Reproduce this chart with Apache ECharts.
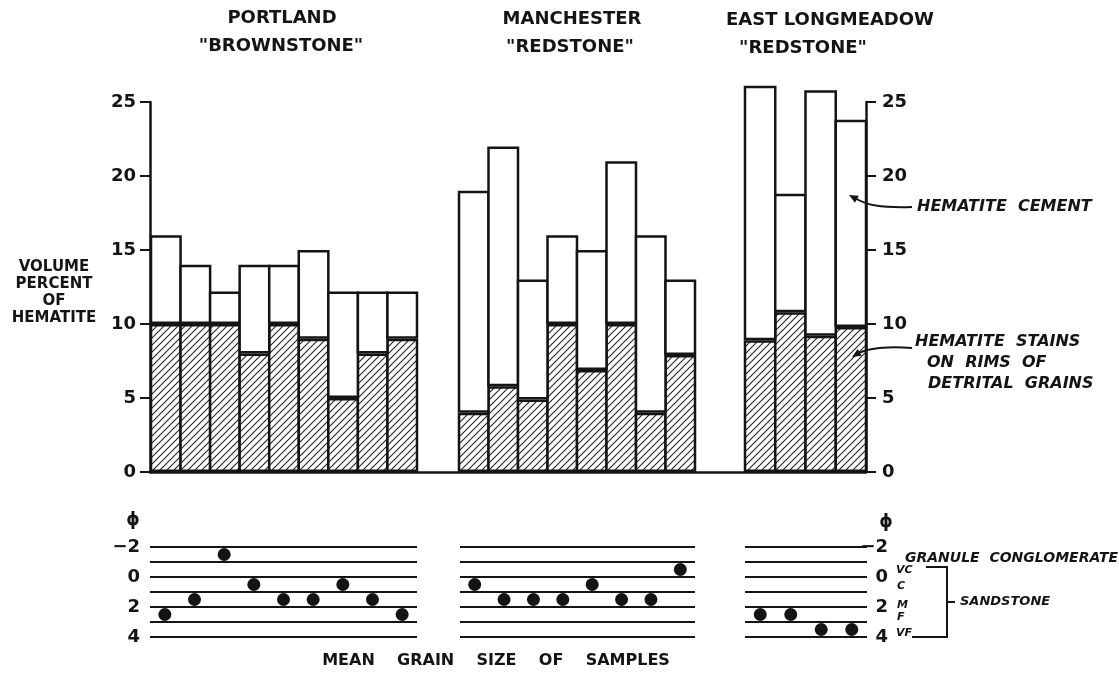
<!DOCTYPE html>
<html>
<head>
<meta charset="utf-8">
<script src="https://cdn.jsdelivr.net/npm/echarts@6/dist/echarts.min.js"></script>
<style>
  html, body { margin: 0; padding: 0; background: #fff; }
  #chart { width: 1119px; height: 673px; }
</style>
</head>
<body>
<div id="chart"></div>
<script>
// volume percent of hematite, total height and hatched (stain) part
const portlandTotal = [16, 14, 12.2, 14, 14, 15, 12.2, 12.2, 12.2]
const portlandStain = [10, 10, 10, 8, 10, 9, 5, 8, 9]
const manchesterTotal = [19, 22, 13, 16, 15, 21, 16, 13]
const manchesterStain = [4, 5.8, 4.9, 10, 6.9, 10, 4, 7.9]
const longmeadowTotal = [26.1, 18.8, 25.8, 23.8]
const longmeadowStain = [8.9, 10.8, 9.2, 9.8]

// mean grain size (phi) of the same samples
const portlandPhi = [2.5, 1.5, -1.5, 0.5, 1.5, 1.5, 0.5, 1.5, 2.5]
const manchesterPhi = [0.5, 1.5, 1.5, 1.5, 0.5, 1.5, 1.5, -0.5]
const longmeadowPhi = [2.5, 2.5, 3.5, 3.5]

const phiTickLabels = [-2, 0, 2, 4]
const ink = '#141414'
const font = '"DejaVu Sans", sans-serif'

function samples (prefix, n) {
  return Array.from({ length: n }, (_, i) => prefix + (i + 1))
}
const portlandCats = samples('P', portlandTotal.length)
const manchesterCats = samples('M', manchesterTotal.length)
const longmeadowCats = samples('E', longmeadowTotal.length)

// diagonal hatching for the stain part
function hatch () {
  const c = document.createElement('canvas')
  c.width = c.height = 7
  const g = c.getContext('2d')
  g.fillStyle = '#fff'
  g.fillRect(0, 0, 7, 7)
  g.strokeStyle = '#222'
  g.lineWidth = 1.1
  g.beginPath()
  g.moveTo(-1, 8); g.lineTo(8, -1)
  g.moveTo(-1, 1); g.lineTo(1, -1)
  g.moveTo(6, 8); g.lineTo(8, 6)
  g.stroke()
  return c
}
const hatchFill = { image: hatch(), repeat: 'repeat' }

const barTop = 102
const barH = 370
const phiTop = 547
const phiH = 90
const border = 2.5
const groups = [
  { left: 151, width: 266, cats: portlandCats, total: portlandTotal, stain: portlandStain, phi: portlandPhi, phiLeft: 150, phiWidth: 267 },
  { left: 459, width: 236, cats: manchesterCats, total: manchesterTotal, stain: manchesterStain, phi: manchesterPhi, phiLeft: 460, phiWidth: 235 },
  { left: 745, width: 121, cats: longmeadowCats, total: longmeadowTotal, stain: longmeadowStain, phi: longmeadowPhi, phiLeft: 745, phiWidth: 122 }
]

const grid = [{ left: 150, top: barTop, width: 716, height: barH, outerBoundsMode: 'none' }]
const xAxis = [{
  gridIndex: 0, type: 'value', min: 0, max: 1,
  axisLine: { show: true, lineStyle: { color: ink, width: 2.5 } },
  axisTick: { show: false }, axisLabel: { show: false }, splitLine: { show: false }
}]
const pctAxis = (pos) => ({
  gridIndex: 0, type: 'value', position: pos, min: 0, max: 25, interval: 5,
  axisLine: { show: true, lineStyle: { color: ink, width: 2.5 } },
  axisTick: { show: true, length: 10, lineStyle: { color: ink, width: 2 } },
  axisLabel: { color: ink, fontFamily: font, fontWeight: 'bold', fontSize: 18, margin: pos === 'left' ? 14 : 16 },
  splitLine: { show: false }
})
const yAxis = [pctAxis('left'), pctAxis('right')]
const series = []

groups.forEach((g, i) => {
  const bg = grid.length
  // bars touch each other: width = band width plus the border
  const bw = g.width / g.cats.length + border
  grid.push({ left: g.left, top: barTop, width: g.width, height: barH, outerBoundsMode: 'none' })
  xAxis.push({ gridIndex: bg, type: 'category', data: g.cats, show: false })
  yAxis.push({ gridIndex: bg, type: 'value', min: 0, max: 25, show: false })
  const yi = yAxis.length - 1
  const xi = xAxis.length - 1
  series.push({
    type: 'bar', xAxisIndex: xi, yAxisIndex: yi, stack: 'g' + i, clip: false,
    barWidth: bw,
    data: g.stain,
    itemStyle: { color: hatchFill, borderColor: ink, borderWidth: border }
  })
  series.push({
    type: 'bar', xAxisIndex: xi, yAxisIndex: yi, stack: 'g' + i, clip: false,
    barWidth: bw,
    data: g.total.map((t, k) => +(t - g.stain[k]).toFixed(1)),
    itemStyle: { color: '#fff', borderColor: ink, borderWidth: border }
  })

  const pg = grid.length
  grid.push({ left: g.phiLeft, top: phiTop, width: g.phiWidth, height: phiH, outerBoundsMode: 'none' })
  xAxis.push({ gridIndex: pg, type: 'category', data: g.cats, show: false })
  const showLabels = i !== 1
  yAxis.push({
    gridIndex: pg, type: 'value', inverse: true, min: -2, max: 4, interval: 1,
    position: i === 2 ? 'right' : 'left',
    axisLine: { show: false }, axisTick: { show: false },
    axisLabel: {
      show: showLabels, color: ink, fontFamily: font, fontWeight: 'bold', fontSize: 18,
      margin: i === 2 ? 21 : 10, align: 'right',
      formatter: v => phiTickLabels.includes(v) ? String(v).replace('-', '\u2212') : ''
    },
    splitLine: { show: true, lineStyle: { color: ink, width: 1.8 } }
  })
  series.push({
    type: 'scatter', xAxisIndex: xAxis.length - 1, yAxisIndex: yAxis.length - 1,
    data: g.phi, symbolSize: 13, itemStyle: { color: ink, opacity: 1 }
  })
})

function text (x, y, str, opts) {
  return {
    type: 'text', silent: true, z: 100,
    style: Object.assign({
      x, y, text: str, fill: ink, align: 'center', verticalAlign: 'middle',
      font: 'bold 18px ' + font
    }, opts || {})
  }
}
const italic = 'italic bold 16px ' + font
const small = 'italic bold 11px ' + font

function arrowHead (tip, from) {
  const dx = tip[0] - from[0]
  const dy = tip[1] - from[1]
  const L = Math.hypot(dx, dy)
  const ux = dx / L
  const uy = dy / L
  const bx = tip[0] - 9 * ux
  const by = tip[1] - 9 * uy
  return {
    type: 'polygon', silent: true, z: 100,
    shape: { points: [tip, [bx - 4 * uy, by + 4 * ux], [bx + 4 * uy, by - 4 * ux]] },
    style: { fill: ink }
  }
}

const graphic = [
  text(282, 18, 'PORTLAND'),
  text(281, 46, '"BROWNSTONE"'),
  text(572, 19, 'MANCHESTER'),
  text(570, 47, '"REDSTONE"'),
  text(830, 20, 'EAST LONGMEADOW'),
  text(803, 48, '"REDSTONE"'),
  text(54, 259, 'VOLUME\nPERCENT\nOF\nHEMATITE', { font: 'bold 15px ' + font, verticalAlign: 'top', lineHeight: 17 }),
  text(917, 207, 'HEMATITE  CEMENT', { font: italic, align: 'left' }),
  text(915, 342, 'HEMATITE  STAINS', { font: italic, align: 'left' }),
  text(927, 363, 'ON  RIMS  OF', { font: italic, align: 'left' }),
  text(928, 384, 'DETRITAL  GRAINS', { font: italic, align: 'left' }),
  {
    type: 'bezierCurve', silent: true, z: 100,
    shape: { x1: 912, y1: 207, x2: 855, y2: 198, cpx1: 880, cpy1: 208, cpx2: 866, cpy2: 205 },
    style: { stroke: ink, lineWidth: 2, fill: null }
  },
  arrowHead([849, 195], [860, 201]),
  {
    type: 'bezierCurve', silent: true, z: 100,
    shape: { x1: 912, y1: 348, x2: 857, y2: 354, cpx1: 885, cpy1: 346, cpx2: 868, cpy2: 348 },
    style: { stroke: ink, lineWidth: 2, fill: null }
  },
  arrowHead([852, 357], [862, 351]),
  text(133, 521, '\u03d5', { font: 'bold 17px ' + font }),
  text(886, 523, '\u03d5', { font: 'bold 17px ' + font }),
  text(905, 558, 'GRANULE  CONGLOMERATE', { font: 'italic bold 14px ' + font, align: 'left' }),
  text(896, 570, 'VC', { font: small, align: 'left' }),
  text(897, 586, 'C', { font: small, align: 'left' }),
  text(897, 605, 'M', { font: small, align: 'left' }),
  text(897, 617, 'F', { font: small, align: 'left' }),
  text(896, 633, 'VF', { font: small, align: 'left' }),
  {
    type: 'polyline', silent: true, z: 100,
    shape: { points: [[926, 567], [947, 567], [947, 637], [912, 637]] },
    style: { stroke: ink, lineWidth: 2, fill: null }
  },
  {
    type: 'line', silent: true, z: 100,
    shape: { x1: 947, y1: 602, x2: 955, y2: 602 },
    style: { stroke: ink, lineWidth: 2 }
  },
  text(960, 602, 'SANDSTONE', { font: 'italic bold 13px ' + font, align: 'left' }),
  text(496, 661, 'MEAN    GRAIN    SIZE    OF    SAMPLES', { font: 'bold 16px ' + font })
]

const chart = echarts.init(document.getElementById('chart'), null, { renderer: 'canvas' })
chart.setOption({
  backgroundColor: '#fff',
  animation: false,
  grid,
  xAxis,
  yAxis,
  series,
  graphic
})
</script>
</body>
</html>
